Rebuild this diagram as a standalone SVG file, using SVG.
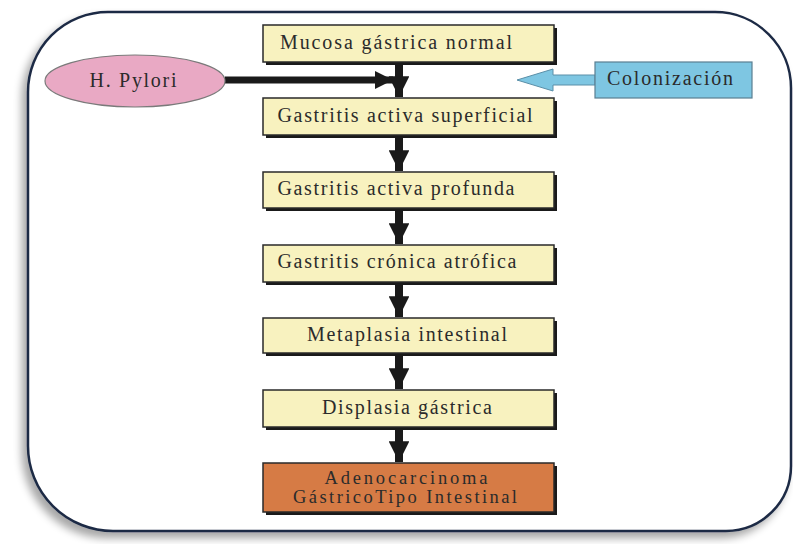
<svg xmlns="http://www.w3.org/2000/svg" width="793" height="544" viewBox="0 0 793 544">
<defs>
<filter id="sh" x="-10%" y="-10%" width="120%" height="120%">
<feGaussianBlur in="SourceAlpha" stdDeviation="4"/>
<feOffset dx="-5" dy="6" result="b"/>
<feComponentTransfer><feFuncA type="linear" slope="0.35"/></feComponentTransfer>
<feMerge><feMergeNode/><feMergeNode in="SourceGraphic"/></feMerge>
</filter>
<marker id="ah" viewBox="0 0 10 10" refX="10" refY="5" markerWidth="2.6" markerHeight="2.6" markerUnits="strokeWidth" orient="auto">
<path d="M0,0 L10,5 L0,10 z" fill="#1a1a1a"/>
</marker>
</defs>
<style>
.box{fill:#f8f2bf;stroke:#2a2a2a;stroke-width:1.5}
.bsh{fill:#1a1a1a}
.t{font-family:"Liberation Serif","Times New Roman",serif;font-size:20px;fill:#2b2b2b;text-anchor:middle}
.s{font-size:18.5px}
.conn{stroke:#1a1a1a;stroke-width:8;fill:none}
</style>
<rect width="793" height="544" fill="#ffffff"/>
<g id="frame">
<path d="M110,12 H715 A76,76 0 0 1 791,88 V466 A65,65 0 0 1 726,531 H113 A85,85 0 0 1 28,446 V92 A80,80 0 0 1 108,12 Z" fill="#ffffff" stroke="#1e2b45" stroke-width="2.5" filter="url(#sh)"/>
</g>
<g id="connectors">
<line class="conn" x1="399" y1="62" x2="399" y2="97" marker-end="url(#ah)"/>
<line class="conn" x1="399" y1="136" x2="399" y2="171" marker-end="url(#ah)"/>
<line class="conn" x1="399" y1="209" x2="399" y2="244" marker-end="url(#ah)"/>
<line class="conn" x1="399" y1="283" x2="399" y2="317" marker-end="url(#ah)"/>
<line class="conn" x1="399" y1="354" x2="399" y2="389" marker-end="url(#ah)"/>
<line class="conn" x1="399" y1="428" x2="399" y2="462" marker-end="url(#ah)"/>
<line stroke="#1a1a1a" stroke-width="7" x1="225" y1="80" x2="393" y2="80" marker-end="url(#ah)"/>
<path d="M595,75 H553 V69 L517,80 L553,91 V85 H595 Z" fill="#7ec6e2" stroke="#5a8fa8" stroke-width="1"/>
</g>
<g id="n1"><rect class="bsh" x="266" y="28" width="291" height="37"/><rect class="box" x="263" y="25" width="291" height="37"/><text class="t" x="396" y="49" textLength="232" lengthAdjust="spacing">Mucosa gástrica normal</text></g>
<g id="n2"><rect class="bsh" x="266" y="101" width="291" height="37"/><rect class="box" x="263" y="98" width="291" height="37"/><text class="t" x="405" y="122" textLength="255" lengthAdjust="spacing">Gastritis activa superficial</text></g>
<g id="n3"><rect class="bsh" x="266" y="175" width="291" height="36"/><rect class="box" x="263" y="172" width="291" height="36"/><text class="t" x="396" y="195" textLength="237" lengthAdjust="spacing">Gastritis activa profunda</text></g>
<g id="n4"><rect class="bsh" x="266" y="248" width="291" height="37"/><rect class="box" x="263" y="245" width="291" height="37"/><text class="t" x="397" y="268" textLength="239" lengthAdjust="spacing">Gastritis crónica atrófica</text></g>
<g id="n5"><rect class="bsh" x="266" y="321" width="291" height="35"/><rect class="box" x="263" y="318" width="291" height="35"/><text class="t" x="407" y="341" textLength="200" lengthAdjust="spacing">Metaplasia intestinal</text></g>
<g id="n6"><rect class="bsh" x="266" y="393" width="291" height="37"/><rect class="box" x="263" y="390" width="291" height="37"/><text class="t" x="407" y="414" textLength="170" lengthAdjust="spacing">Displasia gástrica</text></g>
<g id="n7"><rect class="bsh" x="266" y="466" width="291" height="49"/><rect x="263" y="463" width="291" height="49" fill="#d67b45" stroke="#2a2a2a" stroke-width="1.5"/><text class="t s" x="406" y="484" textLength="163" lengthAdjust="spacing">Adenocarcinoma</text><text class="t s" x="405" y="503" textLength="224" lengthAdjust="spacing">GástricoTipo Intestinal</text></g>
<g id="hpylori"><ellipse cx="135" cy="81" rx="90" ry="26" fill="#e9a9c4" stroke="#7a7a7a" stroke-width="1.2"/><text class="t" x="133" y="87" textLength="87" lengthAdjust="spacing">H. Pylori</text></g>
<g id="colonizacion"><rect x="595" y="62" width="157" height="36" fill="#7ec6e2" stroke="#5a7f92" stroke-width="1.2"/><text class="t" x="670" y="85" textLength="126" lengthAdjust="spacing">Colonización</text></g>
</svg>
